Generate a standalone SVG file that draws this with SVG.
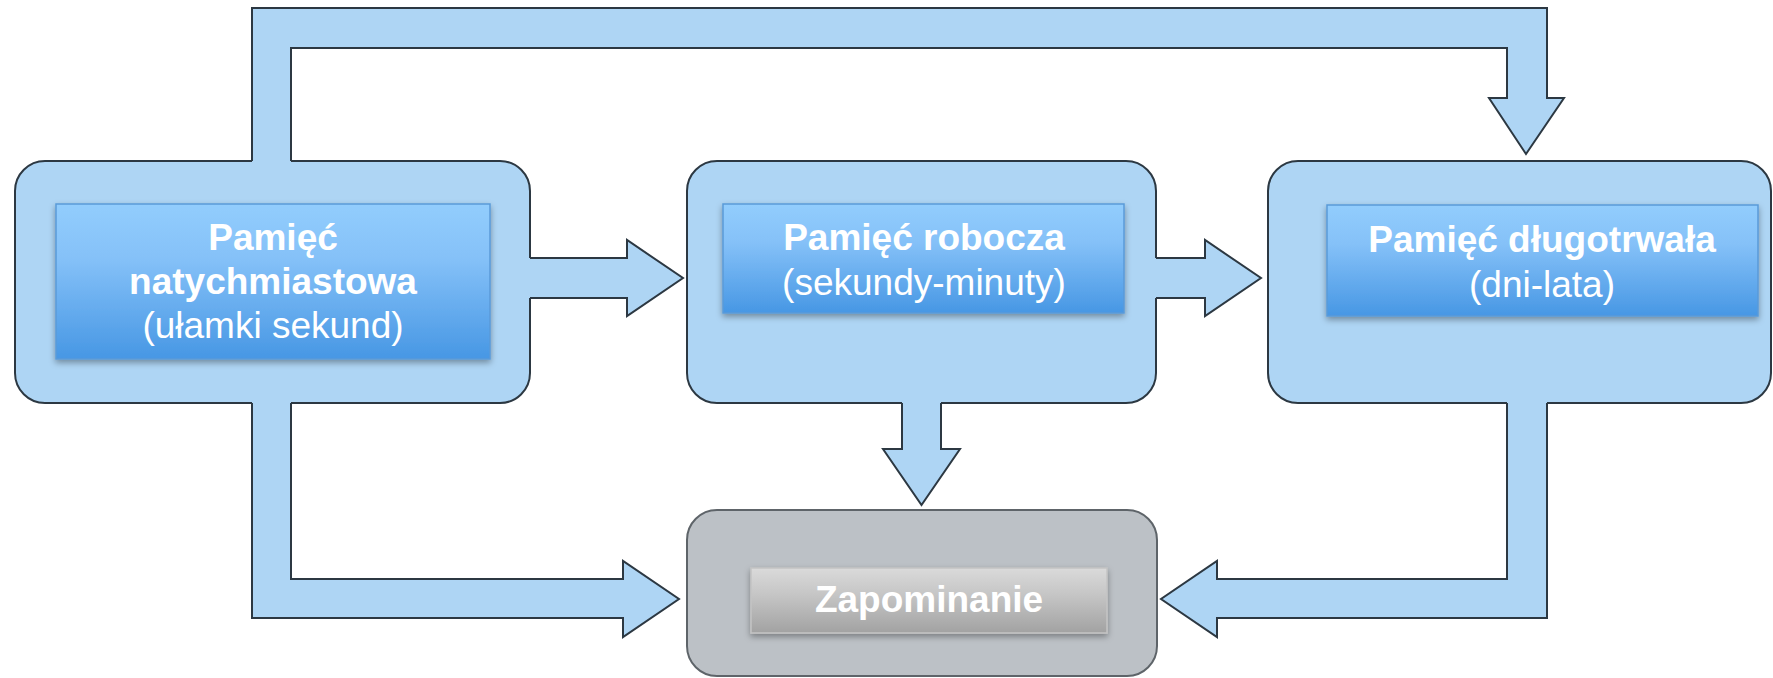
<svg xmlns="http://www.w3.org/2000/svg" width="1773" height="678" viewBox="0 0 1773 678">
  <defs>
    <linearGradient id="blueFace" x1="0" y1="0" x2="0" y2="1">
      <stop offset="0" stop-color="#92CDFD"/>
      <stop offset="0.35" stop-color="#85C1F8"/>
      <stop offset="1" stop-color="#4797E4"/>
    </linearGradient>
    <linearGradient id="grayFace" x1="0" y1="0" x2="0" y2="1">
      <stop offset="0" stop-color="#DADADA"/>
      <stop offset="0.4" stop-color="#C6C6C6"/>
      <stop offset="1" stop-color="#A2A2A2"/>
    </linearGradient>
    <filter id="shadow" x="-10%" y="-20%" width="120%" height="150%">
      <feDropShadow dx="0" dy="3" stdDeviation="3" flood-color="#000" flood-opacity="0.35"/>
    </filter>
  </defs>
  <style>
    .panel { fill: #AED5F4; stroke: #2C3842; stroke-width: 2; }
    .panel-gray { fill: #BCC1C6; stroke: #5E6469; stroke-width: 2; }
    .face { fill: url(#blueFace); stroke: #5A9AD8; stroke-width: 1.5; filter: url(#shadow); }
    .face-gray { fill: url(#grayFace); stroke: #C4C4C4; stroke-width: 1.5; filter: url(#shadow); }
    .arrow-fill { fill: #AED5F4; stroke: none; }
    .arrow-line { fill: none; stroke: #2C3842; stroke-width: 2; stroke-linejoin: miter; }
    text { font-family: "Liberation Sans", Arial, sans-serif; font-size: 37px; fill: #FFFFFF; text-anchor: middle; }
    .bold { font-weight: bold; }
  </style>

  <g id="immediate-memory">
    <rect class="panel" x="15" y="161" width="515" height="242" rx="30"/>
    <rect class="face" x="56" y="204" width="434" height="155"/>
    <text class="bold" x="273" y="250">Pamięć</text>
    <text class="bold" x="273" y="294">natychmiastowa</text>
    <text x="273" y="338">(ułamki sekund)</text>
  </g>

  <g id="working-memory">
    <rect class="panel" x="687" y="161" width="469" height="242" rx="30"/>
    <rect class="face" x="723" y="204" width="401" height="109"/>
    <text class="bold" x="924" y="250">Pamięć robocza</text>
    <text x="924" y="295">(sekundy-minuty)</text>
  </g>

  <g id="long-term-memory">
    <rect class="panel" x="1268" y="161" width="503" height="242" rx="30"/>
    <rect class="face" x="1327" y="205" width="431" height="111"/>
    <text class="bold" x="1542" y="252">Pamięć długotrwała</text>
    <text x="1542" y="297">(dni-lata)</text>
  </g>

  <g id="forgetting">
    <rect class="panel-gray" x="687" y="510" width="470" height="166" rx="30"/>
    <rect class="face-gray" x="751" y="568" width="356" height="65"/>
    <text class="bold" x="929" y="612">Zapominanie</text>
  </g>

  <g id="connectors">
    <!-- immediate -> long-term, over the top -->
    <path class="arrow-fill" d="M252,166 V8 H1547 V98 H1564 L1526,154 L1489,98 H1507 V48 H291 V166 Z"/>
    <path class="arrow-line" d="M252,161 V8 H1547 V98 H1564 L1526,154 L1489,98 H1507 V48 H291 V161"/>
    <!-- immediate -> working -->
    <path class="arrow-fill" d="M525,258 H627 V240 L683,278 L627,316 V298 H525 Z"/>
    <path class="arrow-line" d="M530,258 H627 V240 L683,278 L627,316 V298 H530"/>
    <!-- working -> long-term -->
    <path class="arrow-fill" d="M1151,258 H1205 V240 L1261,278 L1205,316 V298 H1151 Z"/>
    <path class="arrow-line" d="M1156,258 H1205 V240 L1261,278 L1205,316 V298 H1156"/>
    <!-- working -> forgetting -->
    <path class="arrow-fill" d="M902,398 V449 H883 L921.5,505 L960,449 H941 V398 Z"/>
    <path class="arrow-line" d="M902,403 V449 H883 L921.5,505 L960,449 H941 V403"/>
    <!-- immediate -> forgetting -->
    <path class="arrow-fill" d="M252,398 V618 H623 V637 L679,599 L623,561 V579 H291 V398 Z"/>
    <path class="arrow-line" d="M252,403 V618 H623 V637 L679,599 L623,561 V579 H291 V403"/>
    <!-- long-term -> forgetting -->
    <path class="arrow-fill" d="M1547,398 V618 H1217 V637 L1161,599 L1217,561 V579 H1507 V398 Z"/>
    <path class="arrow-line" d="M1547,403 V618 H1217 V637 L1161,599 L1217,561 V579 H1507 V403"/>
  </g>
</svg>
